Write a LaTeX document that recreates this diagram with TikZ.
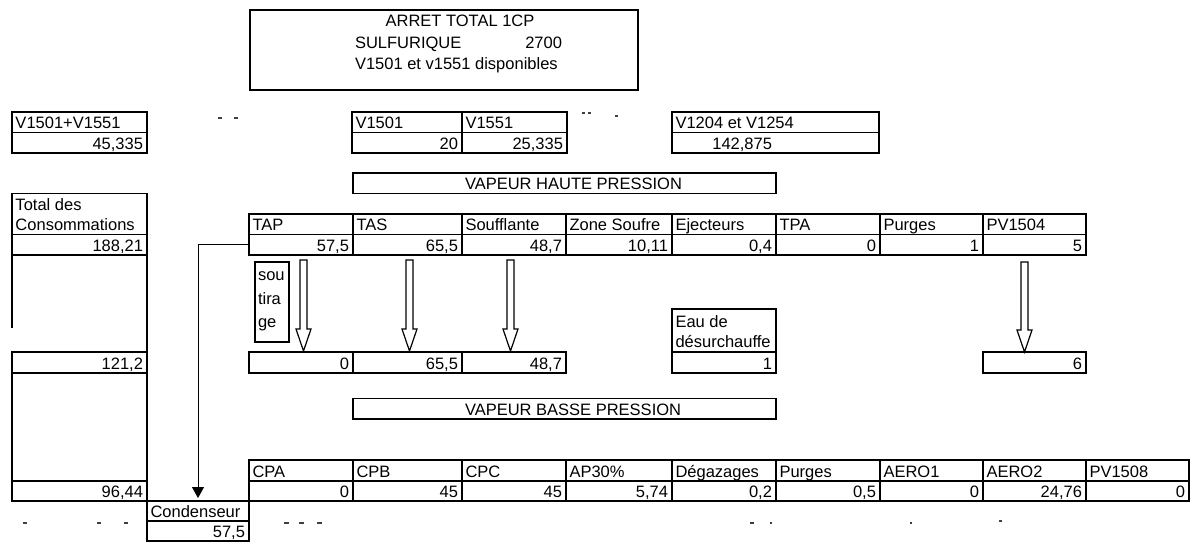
\documentclass[tikz,border=0pt]{standalone}
\usepackage{fontspec}
\setmainfont{Liberation Sans}
\usetikzlibrary{arrows.meta,calc}
\tikzset{
  cellframe/.style={draw=black, line width=1.3pt, inner sep=0pt, outer sep=0pt, anchor=north west},
  txt/.style={inner sep=0pt, outer sep=0pt, font=\fontsize{16.5}{19}\selectfont, text=black},
  rule/.style={draw=black, line width=1.3pt},
  blockarrow/.style={draw=black, line width=1.2pt, fill=white, line join=miter},
  flow/.style={draw=black, line width=1pt, -{Triangle[width=12pt,length=11pt]}},
  speck/.style={draw=black!75, line width=1.3pt},
}
\newcommand\mkbox[5]{%
  \pgfmathsetmacro\myCW{#4-#2}\pgfmathsetmacro\myCH{#5-#3}%
  \node[cellframe, minimum width=\myCW pt, minimum height=\myCH pt] (#1) at (#2,#3) {};}
\newcommand\mkl[6]{\mkbox{#1}{#2}{#3}{#4}{#5}%
  \node[txt,anchor=base west] (#1t) at ({#2+3.5},{#5-4}) {#6};}
\newcommand\mkr[6]{\mkbox{#1}{#2}{#3}{#4}{#5}%
  \node[txt,anchor=base east] (#1t) at ({#4-4},{#5-4}) {#6};}
\newcommand\mkarrow[4]{%
  \coordinate (#1s) at (#2,#3); \coordinate (#1e) at (#2,#4);
  \draw[blockarrow] ($(#1s)+(-3.5,0)$) -- ($(#1s)+(3.5,0)$) -- ($(#1e)+(3.5,-22)$)
    -- ($(#1e)+(7.5,-22)$) -- (#1e) -- ($(#1e)+(-7.5,-22)$) -- ($(#1e)+(-3.5,-22)$) -- cycle;}
\begin{document}
\begin{tikzpicture}[x=1pt,y=-1pt]
\useasboundingbox (0,0) rectangle (1192,542);
% title box
\mkbox{head}{250}{10}{638}{90}
\node[txt,anchor=base] (h1) at (460,26) {ARRET TOTAL 1CP};
\node[txt,anchor=base west] (h2) at (355,48) {SULFURIQUE};
\node[txt,anchor=base east] (h3) at (562,48) {2700};
\node[txt,anchor=base west] (h4) at (355,69) {V1501 et v1551 disponibles};
% first row of tables
\mkl{sumh}{12}{112}{147}{132.5}{V1501+V1551}
\mkr{sumv}{12}{132.5}{147}{153}{45,335}
\mkl{vah}{352}{112}{462}{132.5}{V1501}
\mkl{vbh}{462}{112}{567}{132.5}{V1551}
\mkr{vav}{352}{132.5}{462}{153}{20}
\mkr{vbv}{462}{132.5}{567}{153}{25,335}
\mkl{vch}{672}{112}{879}{132.5}{V1204 et V1254}
\mkbox{vcv}{672}{132.5}{879}{153}
\node[txt,anchor=base east] (vcvt) at (772,149) {142,875};
% vapeur haute pression
\mkbox{vhp}{353}{173}{776}{193.5}
\node[txt,anchor=base west] (vhpt) at (465,189.5) {VAPEUR HAUTE PRESSION};
% left column
\mkbox{toth}{12}{193.5}{147}{234.5}
\node[txt,anchor=base west] (tot1) at (15.5,210) {Total des};
\node[txt,anchor=base west] (tot2) at (15.5,230.5) {Consommations};
\mkr{totv}{12}{234.5}{147}{255}{188,21}
\draw[rule] (12,255) -- (12,328);
\draw[rule] (147,255) -- (147,352);
\mkr{midv}{12}{352}{147}{373}{121,2}
\mkbox{gapb}{12}{373}{147}{481}
\mkr{botv}{12}{481}{147}{501}{96,44}
% HP consumers
\mkl{taph}{249}{214}{353}{234.5}{TAP}
\mkl{tash}{353}{214}{462}{234.5}{TAS}
\mkl{soufh}{462}{214}{566}{234.5}{Soufflante}
\mkl{zoneh}{566}{214}{672}{234.5}{Zone Soufre}
\mkl{ejeh}{672}{214}{776}{234.5}{Ejecteurs}
\mkl{tpah}{776}{214}{880}{234.5}{TPA}
\mkl{purh}{880}{214}{983}{234.5}{Purges}
\mkl{pvah}{983}{214}{1086}{234.5}{PV1504}
\mkr{tapv}{249}{234.5}{353}{255}{57,5}
\mkr{tasv}{353}{234.5}{462}{255}{65,5}
\mkr{soufv}{462}{234.5}{566}{255}{48,7}
\mkr{zonev}{566}{234.5}{672}{255}{10,11}
\mkr{ejev}{672}{234.5}{776}{255}{0,4}
\mkr{tpav}{776}{234.5}{880}{255}{0}
\mkr{purv}{880}{234.5}{983}{255}{1}
\mkr{pvav}{983}{234.5}{1086}{255}{5}
% soutirage
\mkbox{sout}{255}{262}{289}{342}
\node[txt,anchor=base west] (so1) at (258,280) {sou};
\node[txt,anchor=base west] (so2) at (258,304) {tira};
\node[txt,anchor=base west] (so3) at (258,327) {ge};
% second row
\mkr{r1}{249}{352}{353}{373}{0}
\mkr{r2}{353}{352}{462}{373}{65,5}
\mkr{r3}{462}{352}{566}{373}{48,7}
\mkbox{eauh}{672}{309}{776}{352}
\node[txt,anchor=base west] (eau1) at (675.5,327) {Eau de};
\node[txt,anchor=base west] (eau2) at (675.5,347.5) {désurchauffe};
\mkr{eauv}{672}{352}{776}{373}{1}
\mkr{pvbv}{983}{352}{1086}{373}{6}
% block arrows
\mkarrow{aa}{303.5}{260}{351}
\mkarrow{ab}{409.5}{260}{351}
\mkarrow{ac}{510.5}{260}{351}
\mkarrow{ad}{1024.5}{262}{352}
% vapeur basse pression
\mkbox{vbp}{353}{398.5}{776}{419}
\node[txt,anchor=base west] (vbpt) at (465,415) {VAPEUR BASSE PRESSION};
% BP consumers
\mkl{cpah}{249}{460}{353}{481}{CPA}
\mkl{cpbh}{353}{460}{462}{481}{CPB}
\mkl{cpch}{462}{460}{566}{481}{CPC}
\mkl{aph}{566}{460}{672}{481}{AP30\%}
\mkl{degh}{672}{460}{776}{481}{Dégazages}
\mkl{pbh}{776}{460}{880}{481}{Purges}
\mkl{ae1h}{880}{460}{983}{481}{AERO1}
\mkl{ae2h}{983}{460}{1086}{481}{AERO2}
\mkl{pvch}{1086}{460}{1189}{481}{PV1508}
\mkr{cpav}{249}{481}{353}{501}{0}
\mkr{cpbv}{353}{481}{462}{501}{45}
\mkr{cpcv}{462}{481}{566}{501}{45}
\mkr{apv}{566}{481}{672}{501}{5,74}
\mkr{degv}{672}{481}{776}{501}{0,2}
\mkr{pbv}{776}{481}{880}{501}{0,5}
\mkr{ae1v}{880}{481}{983}{501}{0}
\mkr{ae2v}{983}{481}{1086}{501}{24,76}
\mkr{pvcv}{1086}{481}{1189}{501}{0}
% condenseur
\mkl{cond}{147}{501}{249}{521}{Condenseur}
\mkr{condv}{147}{521}{249}{541}{57,5}
\draw[flow, shorten >=3pt] (tapv.west) -| (cond.north);
% specks
\draw[speck] (218,118) -- (222,118) (234,118) -- (238,118);
\draw[speck] (582,113) -- (585,113) (588,113) -- (591,113) (615,116) -- (618,116);
\draw[speck] (23,523) -- (27,523) (97,523) -- (101,523) (124,523) -- (128,523);
\draw[speck] (284,523) -- (289,523) (299,523) -- (304,523) (317,523) -- (322,523);
\draw[speck] (750,523) -- (754,523) (770,523) -- (772,523) (910,523) -- (912,523) (999,521) -- (1002,521);
\end{tikzpicture}
\end{document}
